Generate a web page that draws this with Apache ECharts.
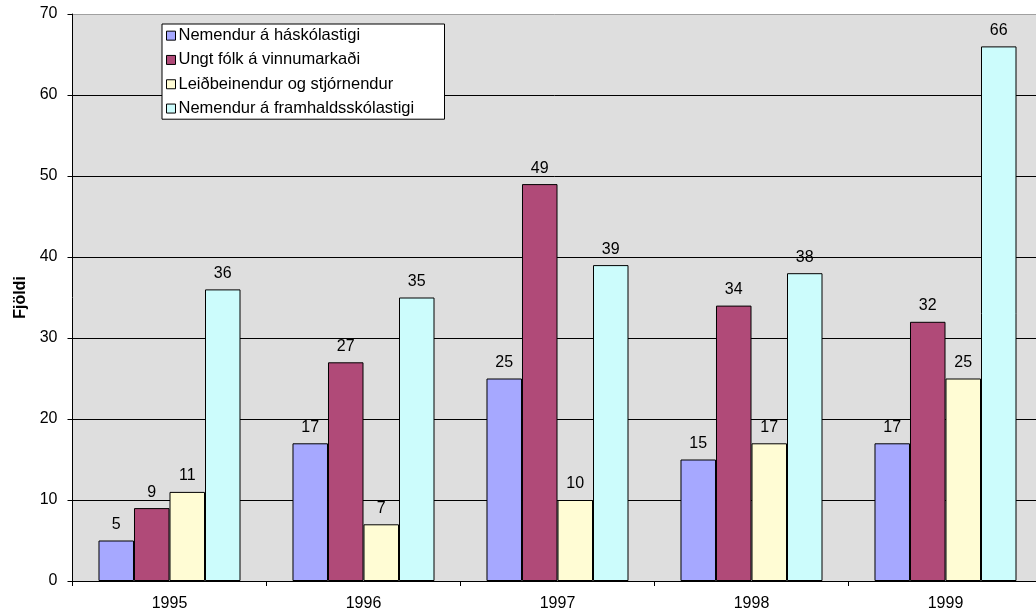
<!DOCTYPE html>
<html>
<head>
<meta charset="utf-8">
<script src="https://cdn.jsdelivr.net/npm/echarts@6/dist/echarts.min.js"></script>
<style>html,body{margin:0;padding:0;background:#fff;overflow:hidden}#c{width:1036px;height:613px}</style>
</head>
<body>
<div id="c"></div>
<script>
const categories = ['1995', '1996', '1997', '1998', '1999'];
const seriesNames = ['Nemendur á háskólastigi', 'Ungt fólk á vinnumarkaði', 'Leiðbeinendur og stjórnendur', 'Nemendur á framhaldsskólastigi'];
const haskoli = [5, 17, 25, 15, 17];
const ungtFolk = [9, 27, 49, 34, 32];
const leidbeinendur = [11, 7, 10, 17, 25];
const framhald = [36, 35, 39, 38, 66];
const colors = ['#a6a8ff', '#b04a78', '#fffcd4', '#ccfcfc'];
const values = [haskoli, ungtFolk, leidbeinendur, framhald];

const font = 'Liberation Sans, Arial, sans-serif';
const chart = echarts.init(document.getElementById('c'), null, {renderer: 'canvas'});
chart.setOption({
  animation: false,
  textStyle: {fontFamily: font},
  grid: {left: 72.5, width: 970, top: 14, bottom: 32, show: true, backgroundColor: '#dedede', borderWidth: 0, outerBoundsMode: 'none', containLabel: false},
  legend: {
    orient: 'vertical', left: 162, top: 24,
    backgroundColor: '#fff', borderColor: '#000', borderWidth: 1,
    padding: [2, 4, 1, 4], itemGap: 5, itemWidth: 9, itemHeight: 9,
    icon: 'rect',
    textStyle: {fontFamily: font, fontSize: 16.5, color: '#000', padding: [0, 0, 0, -2], lineHeight: 19.3, width: 262},
    itemStyle: {borderColor: '#000', borderWidth: 1}
  },
  xAxis: {
    type: 'category', data: categories,
    axisLine: {lineStyle: {color: '#000', width: 1}},
    axisTick: {show: true, length: 5, lineStyle: {color: '#000'}},
    axisLabel: {fontFamily: font, fontSize: 16, color: '#000', margin: 15},
    splitLine: {show: false}
  },
  yAxis: {
    type: 'value', min: 0, max: 70, interval: 10,
    name: 'Fjöldi', nameLocation: 'middle', nameGap: 44,
    nameTextStyle: {fontFamily: font, fontSize: 16, fontWeight: 'bold', color: '#000'},
    axisLine: {show: true, lineStyle: {color: '#000', width: 1}},
    axisTick: {show: true, length: 5, lineStyle: {color: '#000'}},
    axisLabel: {fontFamily: font, fontSize: 16, color: '#000', margin: 15},
    splitLine: {show: true, lineStyle: {color: ['#000', '#000', '#000', '#000', '#000', '#000', '#000', '#a0a0a0'], width: 1}}
  },
  series: seriesNames.map((n, i) => ({
    name: n, type: 'bar', data: values[i],
    barGap: '0%', barCategoryGap: '26.8%',
    itemStyle: {color: colors[i], borderColor: '#000', borderWidth: 1},
    label: {show: true, position: 'top', distance: 8, fontFamily: font, fontSize: 16, color: '#000'}
  }))
});
</script>
</body>
</html>
